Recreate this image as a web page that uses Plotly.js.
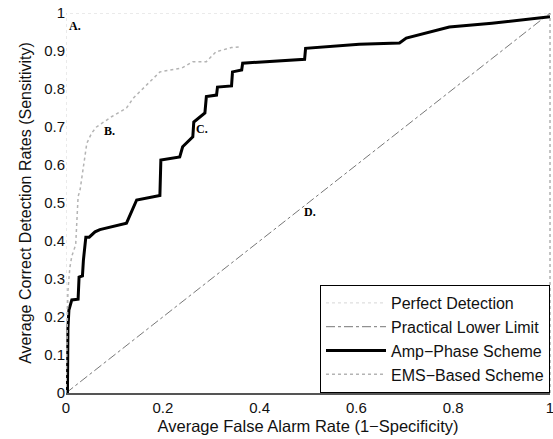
<!DOCTYPE html>
<html>
<head>
<meta charset="utf-8">
<script src="https://cdn.plot.ly/plotly-3.0.1.min.js"></script>
<style>html,body{margin:0;padding:0;background:#fff;}#chart{width:553px;height:439px;}</style>
</head>
<body>
<div id="chart"></div>
<script>
// Series names
const seriesNames = ["Perfect Detection", "Practical Lower Limit", "Amp\u2212Phase Scheme", "EMS\u2212Based Scheme"];

// Tick values
const xTicks = [0, 0.2, 0.4, 0.6, 0.8, 1];
const xTickText = ["0", "0.2", "0.4", "0.6", "0.8", "1"];
const yTicks = [0, 0.1, 0.2, 0.3, 0.4, 0.5, 0.6, 0.7, 0.8, 0.9, 1];
const yTickText = ["0", "0.1", "0.2", "0.3", "0.4", "0.5", "0.6", "0.7", "0.8", "0.9", "1"];

// Perfect detection
const perfectX = [0, 0, 1];
const perfectY = [0, 1, 1];

// Practical lower limit (chance diagonal)
const lowerX = [0, 1];
const lowerY = [0, 1];

// Amp-Phase scheme ROC
const ampX = [0.003, 0.004, 0.006, 0.012, 0.025, 0.027, 0.034, 0.036, 0.041, 0.048, 0.06, 0.07, 0.125, 0.138, 0.146, 0.194, 0.196, 0.235, 0.241, 0.262, 0.264, 0.287, 0.29, 0.311, 0.313, 0.342, 0.344, 0.363, 0.365, 0.493, 0.495, 0.606, 0.689, 0.703, 0.792, 0.88, 1.0];
const ampY = [0, 0.17, 0.218, 0.245, 0.247, 0.305, 0.308, 0.35, 0.41, 0.41, 0.424, 0.43, 0.447, 0.487, 0.508, 0.52, 0.613, 0.621, 0.648, 0.674, 0.713, 0.737, 0.78, 0.784, 0.805, 0.808, 0.845, 0.85, 0.868, 0.878, 0.907, 0.918, 0.921, 0.934, 0.963, 0.973, 0.99];

// EMS-based scheme ROC
const emsX = [0, 0.002, 0.004, 0.008, 0.012, 0.02, 0.022, 0.025, 0.029, 0.035, 0.043, 0.053, 0.063, 0.094, 0.125, 0.139, 0.194, 0.239, 0.262, 0.29, 0.31, 0.342, 0.359];
const emsY = [0, 0.15, 0.27, 0.33, 0.36, 0.39, 0.43, 0.517, 0.534, 0.59, 0.657, 0.684, 0.70, 0.727, 0.75, 0.776, 0.845, 0.855, 0.872, 0.872, 0.898, 0.909, 0.911];

// Point labels
const labelText = ["A.", "B.", "C.", "D."];
const labelX = [0.019, 0.09, 0.28, 0.505];
const labelY = [0.965, 0.69, 0.695, 0.476];

const font = "Liberation Sans, Arial, Helvetica, sans-serif";

const traces = [
  {x: perfectX, y: perfectY, mode: "lines", name: seriesNames[0],
   line: {color: "#d6d6d6", width: 1, dash: "dot"}},
  {x: lowerX, y: lowerY, mode: "lines", name: seriesNames[1],
   line: {color: "#777", width: 1, dash: "dashdot"}},
  {x: ampX, y: ampY, mode: "lines", name: seriesNames[2],
   line: {color: "#000", width: 3}},
  {x: emsX, y: emsY, mode: "lines", name: seriesNames[3],
   line: {color: "#b4b4b4", width: 1.5, dash: "dot"}}
];

const annotations = labelText.map((t, i) => ({
  x: labelX[i], y: labelY[i], xref: "x", yref: "y", text: t, showarrow: false,
  xanchor: "center", yanchor: "middle",
  font: {family: "Liberation Serif, Times New Roman, serif", size: 12, color: "#000", weight: "bold"}
}));

const layout = {
  width: 553, height: 439,
  margin: {l: 66, r: 3, t: 13, b: 46},
  paper_bgcolor: "#fff", plot_bgcolor: "#fff",
  showlegend: true,
  legend: {x: 1, xanchor: "right", y: 0, yanchor: "bottom",
           bgcolor: "#fff", bordercolor: "#000", borderwidth: 1,
           font: {family: font, size: 16, color: "#111"},
           tracegroupgap: 0, itemwidth: 60},
  xaxis: {range: [0, 1], tickmode: "array", tickvals: xTicks, ticktext: xTickText,
          showgrid: false, zeroline: false, ticklabeloverflow: "allow",
          showline: true, linecolor: "#555", linewidth: 1.5, ticks: "",
          tickfont: {family: font, size: 15, color: "#111"},
          title: {text: "Average False Alarm Rate (1\u2212Specificity)", standoff: 6,
                  font: {family: font, size: 16.5, color: "#111"}}},
  yaxis: {range: [0, 1], tickmode: "array", tickvals: yTicks, ticktext: yTickText,
          showgrid: false, zeroline: false,
          showline: false, ticks: "",
          tickfont: {family: font, size: 15, color: "#111"},
          title: {text: "Average Correct Detection Rates (Sensitivity)", standoff: 8,
                  font: {family: font, size: 16, color: "#111"}}},
  shapes: [
    {type: "line", xref: "paper", yref: "paper", x0: 1, x1: 1, y0: 0, y1: 1,
     line: {color: "#888", width: 1, dash: "dot"}}
  ],
  annotations: annotations
};

Plotly.newPlot("chart", traces, layout, {displayModeBar: false, staticPlot: true});
</script>
</body>
</html>
